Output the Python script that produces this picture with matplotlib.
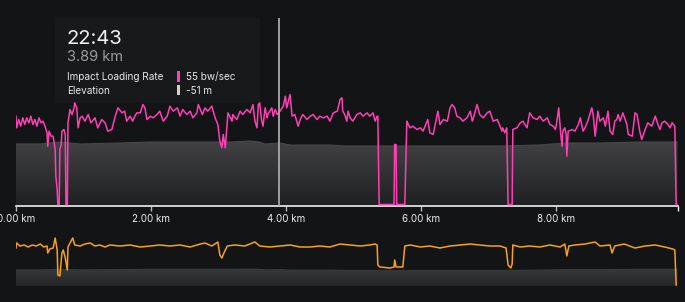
import numpy as np
import matplotlib
matplotlib.use("Agg")
import matplotlib.pyplot as plt
from matplotlib.colors import LinearSegmentedColormap
from matplotlib.patches import Rectangle

# ---------------- data ----------------
dist_km = [
    0.00, 0.01, 0.04, 0.07, 0.10, 0.13, 0.16, 0.19, 0.22, 0.25,
    0.28, 0.31, 0.34, 0.37, 0.40, 0.43, 0.46, 0.47, 0.49, 0.52,
    0.55, 0.58, 0.59, 0.61, 0.62, 0.64, 0.65, 0.67, 0.68, 0.71,
    0.73, 0.74, 0.76, 0.77, 0.80, 0.83, 0.86, 0.87, 0.90, 0.92,
    0.95, 0.98, 1.02, 1.07, 1.11, 1.17, 1.21, 1.27, 1.32, 1.36,
    1.42, 1.47, 1.51, 1.57, 1.61,
    1.64, 1.69, 1.73, 1.76, 1.79, 1.84, 1.88, 1.91, 1.94, 1.99,
    2.03, 2.09, 2.13, 2.18, 2.24, 2.28, 2.33, 2.39, 2.43, 2.47,
    2.53, 2.58, 2.62, 2.68, 2.70, 2.76, 2.80, 2.84, 2.90, 2.95,
    2.99, 3.02, 3.05, 3.07, 3.10, 3.13, 3.14, 3.20,
    3.21, 3.27, 3.32, 3.36, 3.42, 3.47, 3.51, 3.54, 3.57, 3.59,
    3.61, 3.64, 3.66, 3.69, 3.72, 3.73, 3.79, 3.81, 3.84, 3.87,
    3.91, 3.96, 3.99, 4.01, 4.06, 4.09, 4.13, 4.18, 4.21, 4.25,
    4.31, 4.36, 4.40, 4.46, 4.50, 4.55, 4.61, 4.65, 4.70, 4.76,
    4.80, 4.83, 4.84, 4.87,
    4.90, 4.92, 4.95, 4.99, 5.05, 5.10, 5.14, 5.20, 5.24, 5.29,
    5.32, 5.35, 5.36, 5.38, 5.60, 5.61, 5.63, 5.64, 5.76, 5.79,
    5.81, 5.84, 5.88, 5.94, 5.99, 6.03, 6.09, 6.10, 6.13, 6.18,
    6.24, 6.25, 6.28, 6.33, 6.39, 6.43, 6.46, 6.50,
    6.53, 6.58, 6.62, 6.68, 6.73, 6.76, 6.77, 6.83, 6.87, 6.92,
    6.98, 7.02, 7.07, 7.13, 7.17, 7.20, 7.21, 7.24, 7.27, 7.29,
    7.35, 7.36, 7.42, 7.47, 7.51, 7.57, 7.61, 7.66, 7.72, 7.76,
    7.81, 7.87, 7.91, 7.96, 7.99, 8.01, 8.04, 8.07,
    8.09, 8.10, 8.13, 8.15, 8.16, 8.18, 8.24, 8.28, 8.33, 8.36,
    8.40, 8.43, 8.47, 8.53, 8.55, 8.58, 8.62, 8.65, 8.70, 8.73,
    8.77, 8.80, 8.84, 8.87, 8.90, 8.92, 8.95, 8.99, 9.05, 9.07,
    9.13, 9.17, 9.20, 9.24, 9.27, 9.32, 9.36, 9.42, 9.47, 9.51,
    9.54, 9.57, 9.61, 9.66, 9.69, 9.72, 9.76, 9.78, 9.79,
]
impact_rate = [
    53, 46, 51, 47, 52, 48, 52, 49, 53, 48,
    51, 47, 52, 49, 50, 47, 43, 35, 44, 41,
    41, 33, 17, 9, 0, 0, 33, 36, 44, 45,
    42, 0, 0, 49, 57, 54, 58, 61, 58, 46,
    52, 53, 50, 54, 49, 52, 46, 51, 49, 44,
    45, 53, 58, 55, 56,
    50, 53, 50, 53, 55, 55, 60, 58, 51, 53,
    52, 54, 56, 50, 53, 59, 56, 58, 53, 57,
    54, 56, 52, 55, 60, 54, 58, 56, 59, 52,
    48, 38, 34, 42, 34, 50, 55, 50,
    54, 51, 56, 54, 57, 55, 60, 50, 46, 60,
    61, 50, 47, 58, 52, 54, 58, 53, 57, 54,
    56, 59, 65, 58, 66, 53, 54, 47, 51, 54,
    51, 53, 54, 51, 53, 52, 53, 50, 55, 56,
    63, 64, 56, 54,
    50, 56, 52, 50, 54, 55, 53, 55, 53, 55,
    50, 53, 53, 0, 0, 36, 36, 0, 0, 50,
    48, 46, 47, 45, 46, 44, 50, 51, 43, 42,
    54, 56, 48, 51, 50, 58, 60, 58,
    53, 52, 50, 52, 56, 50, 51, 60, 54, 52,
    55, 56, 50, 51, 47, 44, 46, 43, 46, 0,
    0, 45, 46, 49, 50, 46, 55, 52, 51, 53,
    50, 52, 48, 47, 45, 49, 58, 42,
    35, 44, 46, 42, 29, 44, 45, 44, 48, 52,
    44, 46, 50, 58, 54, 41, 56, 50, 52, 47,
    56, 44, 42, 50, 51, 54, 50, 55, 48, 42,
    41, 55, 54, 44, 39, 45, 49, 47, 53, 48,
    45, 49, 50, 48, 46, 49, 47, 0, 0,
]

elev_km = [0.00, 0.36, 0.65, 0.95, 1.54, 1.99, 2.28, 2.73, 3.17, 3.47,
           3.61, 3.69, 3.91, 4.06, 4.36, 4.65, 4.87, 5.39, 5.99, 6.58,
           7.17, 7.76, 8.13, 8.65, 9.24, 9.80]
elev_m = [-52, -52, -50, -52, -51, -50, -50, -50, -50, -49,
          -50, -52, -51, -53, -53, -53, -54, -54, -54, -54,
          -54, -53, -51, -51, -50, -50]

speed_km = [
    0.00, 0.01, 0.06, 0.12, 0.18, 0.24, 0.30, 0.36, 0.41, 0.46,
    0.47, 0.50, 0.55, 0.58, 0.61, 0.62, 0.65, 0.68, 0.70, 0.73,
    0.76, 0.77, 0.80, 0.84, 0.87, 0.95, 1.02, 1.10, 1.17, 1.24,
    1.32, 1.39, 1.54, 1.69, 1.84, 1.99, 2.13, 2.28, 2.43, 2.58,
    2.73, 2.80, 2.90, 2.99, 3.02, 3.05, 3.08, 3.13, 3.24, 3.39,
    3.54, 3.61, 3.76, 3.91, 4.06, 4.21, 4.36, 4.50, 4.65, 4.80,
    4.95, 5.10, 5.24, 5.32, 5.35, 5.36, 5.39, 5.54, 5.60, 5.61,
    5.63, 5.73, 5.76, 5.84, 5.99, 6.13, 6.28, 6.43, 6.58, 6.73,
    6.87, 7.02, 7.17, 7.26, 7.29, 7.33, 7.35, 7.36, 7.47, 7.61,
    7.76, 7.91, 8.06, 8.13, 8.16, 8.19, 8.28, 8.43, 8.58, 8.65,
    8.80, 8.83, 8.87, 9.01, 9.17, 9.32, 9.47, 9.61, 9.73, 9.76,
    9.78,
]
speed_kmh = [
    9.25, 10.5, 9.75, 10.0, 9.5, 10.0, 9.75, 10.25, 9.5, 9.75,
    8.0, 9.0, 9.25, 11.75, 8.75, 2.5, 2.25, 8.0, 8.75, 6.75,
    3.75, 9.5, 10.5, 11.75, 10.0, 9.75, 10.25, 10.5, 9.75, 10.0,
    9.5, 10.0, 9.75, 10.0, 9.5, 9.75, 10.0, 9.75, 10.0, 9.5,
    10.25, 10.5, 9.75, 10.75, 7.5, 6.75, 8.0, 9.75, 10.0, 9.75,
    10.75, 9.75, 9.5, 9.75, 10.0, 9.5, 9.5, 9.75, 9.5, 10.25,
    10.0, 9.75, 10.0, 10.25, 10.0, 5.0, 4.5, 4.25, 4.5, 6.25,
    4.5, 4.5, 9.75, 10.0, 9.5, 9.75, 9.25, 9.75, 10.0, 10.25,
    10.0, 9.75, 9.75, 9.25, 5.0, 4.25, 5.25, 10.0, 9.5, 9.75,
    9.5, 10.0, 9.5, 10.25, 7.25, 9.75, 10.0, 10.25, 10.75, 9.75,
    10.0, 8.0, 9.75, 10.25, 9.25, 9.75, 10.0, 9.5, 9.0, 8.75,
    0.0,
]

tick_km = [0, 2, 4, 6, 8]
tick_labels = ["0.00 km", "2.00 km", "4.00 km", "6.00 km", "8.00 km"]
cursor_km = 3.89
cursor_time = "22:43"
cursor_dist = "3.89 km"
cursor_rows = [("Impact Loading Rate", "55 bw/sec"), ("Elevation", "-51 m")]

# ---------------- style ----------------
BG = "#131416"
PINK = "#ff3fb6"
ORANGE = "#f7a21b"
FONT = ["Inter", "DejaVu Sans"]
plt.rcParams["font.family"] = FONT

W, H = 685, 302
XMAX = 9.807


def rect(x0, y0, x1, y1):
    return [x0 / W, 1 - y1 / H, (x1 - x0) / W, (y1 - y0) / H]


def gradient_fill(axis, x, y, ybase, ytop, c_top, c_bot, z=1):
    poly = axis.fill_between(x, y, ybase, color="none", lw=0)
    cmap = LinearSegmentedColormap.from_list("g", [c_bot, c_top])
    grad = np.linspace(0, 1, 256).reshape(-1, 1)
    im = axis.imshow(grad, cmap=cmap, aspect="auto", origin="lower",
                     extent=[x[0], x[-1], ybase, ytop], zorder=z,
                     interpolation="bilinear")
    im.set_clip_path(poly.get_paths()[0], transform=axis.transData)


fig = plt.figure(figsize=(W / 100, H / 100), dpi=100, facecolor=BG)

# ---------------- main chart ----------------
ax = fig.add_axes(rect(16, 18, 678, 206))
ax.set_facecolor(BG)
E_LO, E_HI = -114, 74
gradient_fill(ax, elev_km, elev_m, E_LO, max(elev_m) + 1, "#424244", "#1f2022")
ax.plot(elev_km, elev_m, color="#47474a", lw=0.8, zorder=2)
ax.set_xlim(0, XMAX)
ax.set_ylim(E_LO, E_HI)

# tooltip background
ax.add_patch(Rectangle((55 / W, 1 - 103 / H), 205 / W, 85 / H,
                       transform=fig.transFigure, facecolor="#18191b",
                       edgecolor="none", zorder=0.5))

for s in ["top", "left", "right"]:
    ax.spines[s].set_visible(False)
ax.spines["bottom"].set_color("#f2f2f2")
ax.spines["bottom"].set_linewidth(1.2)
ax.set_yticks([])
ax.set_xticks(tick_km)
ax.set_xticklabels(tick_labels)
ax.set_xticks([XMAX], minor=True)
ax.tick_params(axis="x", which="major", colors="#b8b8b8", length=3.6,
               width=1.0, pad=1.8, labelsize=7, labelcolor="#f0f0f0")
ax.tick_params(axis="x", which="minor", colors="#f2f2f2", length=3.6,
               width=1.0)

ax2 = ax.twinx()
ax2.set_ylim(-0.9, 111.9)
ax2.plot(dist_km, impact_rate, color=PINK, lw=1.1, solid_joinstyle="round")
ax2.axvline(cursor_km, color="#a9a9a9", lw=1.3)
ax2.set_xlim(0, XMAX)
ax2.axis("off")

# ---------------- mini overview ----------------
axm = fig.add_axes(rect(16, 228, 678, 286))
axm.set_facecolor(BG)
M_LO = -114
M_HI = -114 + 58 * (63 / 17)
gradient_fill(axm, elev_km, elev_m, M_LO, max(elev_m) + 2, "#3b3b3d", "#242527")
axm.set_xlim(0, XMAX)
axm.set_ylim(M_LO, M_HI)
axm.axis("off")

axm2 = axm.twinx()
axm2.plot(speed_km, speed_kmh, color=ORANGE, lw=1.1, solid_joinstyle="round")
axm2.set_xlim(0, XMAX)
axm2.set_ylim(-0.25, 14.25)
axm2.axis("off")

# ---------------- tooltip text ----------------
def fx(x):
    return x / W


def fy(y):
    return 1 - y / H


fig.text(fx(66.5), fy(44.5), cursor_time, fontsize=14.5, color="#f2f2f2",
         va="baseline", ha="left")
fig.text(fx(67), fy(61), cursor_dist, fontsize=10.5, color="#9c9c9c",
         va="baseline", ha="left")
row_base = [80, 93.5]
bar_cols = [PINK, "#cfcfcf"]
for (lab, val), yb, bc in zip(cursor_rows, row_base, bar_cols):
    fig.text(fx(67), fy(yb), lab, fontsize=7.2, color="#e8e8e8",
             va="baseline", ha="left")
    fig.text(fx(186), fy(yb), val, fontsize=7.2, color="#e8e8e8",
             va="baseline", ha="left")
    fig.patches.append(Rectangle((fx(177.3), fy(yb + 1.5)), 3 / W, 10 / H,
                                 transform=fig.transFigure, facecolor=bc,
                                 edgecolor="none"))

fig.savefig("out.png", dpi=100, facecolor=BG)
